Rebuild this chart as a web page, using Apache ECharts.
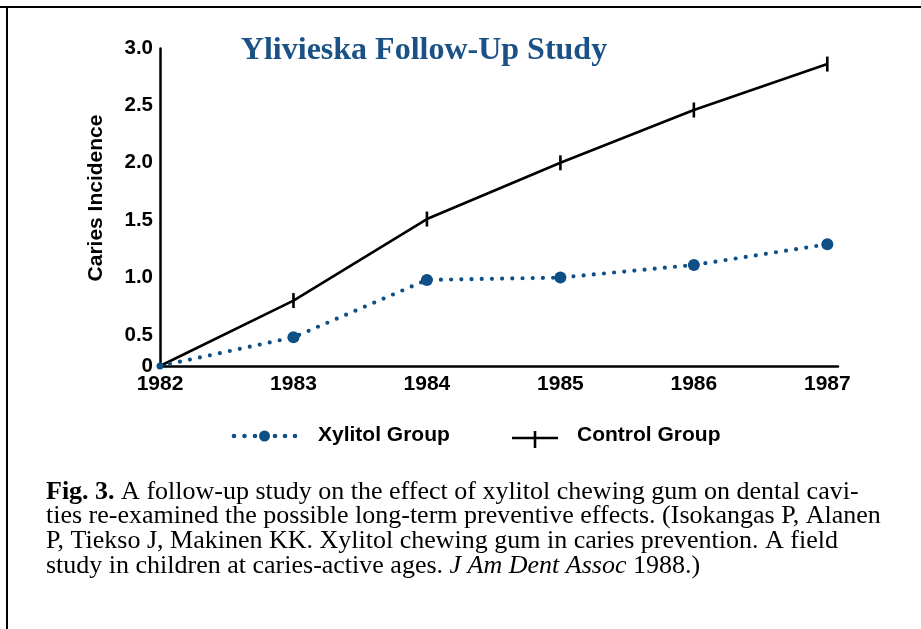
<!DOCTYPE html>
<html>
<head>
<meta charset="utf-8">
<script src="https://cdn.jsdelivr.net/npm/echarts@6/dist/echarts.min.js"></script>
<style>
html,body{margin:0;padding:0;background:#fff;}
#c{width:921px;height:629px;}
</style>
</head>
<body>
<div id="c"></div>
<script>
const years = [1982, 1983, 1984, 1985, 1986, 1987];
const xylitol = [0, 0.48, 0.98, 1.0, 1.11, 1.29];
const control = [0, 0.80, 1.51, 2.0, 2.46, 2.86];
const yTicks = [0, 0.5, 1.0, 1.5, 2.0, 2.5, 3.0];
const titleText = 'Ylivieska Follow-Up Study';
const yName = 'Caries Incidence';
const seriesNames = ['Xylitol Group', 'Control Group'];
const captionLines = [
  [{s:'b', t:'Fig. 3.'}, {s:'n', t:' A follow-up study on the effect of xylitol chewing gum on dental cavi-'}],
  [{s:'n', t:'ties re-examined the possible long-term preventive effects. (Isokangas P, Alanen'}],
  [{s:'n', t:'P, Tiekso J, Makinen KK. Xylitol chewing gum in caries prevention. A field'}],
  [{s:'n', t:'study in children at caries-active ages. '}, {s:'i', t:'J Am Dent Assoc'}, {s:'n', t:' 1988.)'}]
];

const BLUE = '#0e4f86';
const SANS = 'Liberation Sans, Arial, sans-serif';
const SERIF = 'Liberation Serif, Times New Roman, serif';
const chart = echarts.init(document.getElementById('c'), null, {renderer:'canvas'});

const CAP = 26;
const capGraphics = captionLines.map((line, i) => ({
  type:'text', x: 46, y: 492 + i*24.6,
  style:{
    text: line.map(p => '{' + p.s + '|' + p.t + '}').join(''),
    verticalAlign:'middle',
    rich:{
      b:{fontFamily:SERIF, fontSize:CAP, fontWeight:'bold', fill:'#000'},
      n:{fontFamily:SERIF, fontSize:CAP, fill:'#000'},
      i:{fontFamily:SERIF, fontSize:CAP, fontStyle:'italic', fill:'#000'}
    }
  }
}));

const legendDots = [234, 244.5, 255, 275, 285, 295].map(x => ({
  type:'circle', shape:{cx:x, cy:436, r:2.3}, style:{fill:BLUE}
}));

const option = {
  animation:false,
  backgroundColor:'#fff',
  grid:{left:160, right:83, top:48, bottom:263, containLabel:false},
  xAxis:{
    type:'value', min:1982, max:1987.08, interval:1,
    axisLine:{show:true, onZero:false, lineStyle:{color:'#000', width:2.5}},
    axisTick:{show:false}, splitLine:{show:false},
    axisLabel:{
      margin:8, color:'#000', fontFamily:SANS, fontWeight:'bold', fontSize:21,
      formatter: v => (Math.abs(v - Math.round(v)) < 1e-6 ? String(Math.round(v)) : ''),
      showMaxLabel:false
    }
  },
  yAxis:{
    type:'value', min:0, max:3, interval:0.5,
    breaks:[{start:0, end:0.23, gap:0}],
    breakArea:{show:false},
    breakLabelLayout:{moveOverlap:false},
    axisLine:{show:true, lineStyle:{color:'#000', width:2.5}},
    axisTick:{show:false}, splitLine:{show:false},
    axisLabel:{
      margin:7, color:'#000', fontFamily:SANS, fontWeight:'bold', fontSize:20.5,
      hideOverlap:false,
      customValues: yTicks,
      formatter: v => {
        const hit = yTicks.find(t => Math.abs(t - v) < 1e-6);
        if (hit === undefined) return '';
        return hit === 0 ? '0' : hit.toFixed(1);
      }
    }
  },
  series:[
    {
      name:seriesNames[1], type:'line', z:2,
      data: years.map((y, i) => i === 0 ? {value:[y, control[i]], symbol:'none'} : [y, control[i]]),
      symbol:'rect', symbolSize:[2.6, 15],
      lineStyle:{color:'#000', width:2.6},
      itemStyle:{color:'#000'}
    },
    {
      name:seriesNames[0], type:'line', z:3,
      data: years.map((y, i) => i === 0 ? {value:[y, xylitol[i]], symbolSize:7} : [y, xylitol[i]]),
      symbol:'circle', symbolSize:12,
      lineStyle:{color:BLUE, width:4.2, type:[0, 10.2], cap:'round'},
      itemStyle:{color:BLUE}
    }
  ],
  graphic:[
    {type:'line', shape:{x1:0, y1:7, x2:921, y2:7}, style:{stroke:'#000', lineWidth:2}},
    {type:'line', shape:{x1:7, y1:6, x2:7, y2:629}, style:{stroke:'#000', lineWidth:2}},
    {type:'text', x:424, y:51, style:{text:titleText, fontFamily:SERIF, fontWeight:'bold', fontSize:32, fill:'#1a5287', align:'center', verticalAlign:'middle'}},
    {type:'text', x:96, y:198, rotation:Math.PI/2, style:{text:yName, fontFamily:SANS, fontWeight:'bold', fontSize:21, fill:'#000', align:'center', verticalAlign:'middle'}},
    ...legendDots,
    {type:'circle', shape:{cx:264.5, cy:436, r:5.5}, style:{fill:BLUE}},
    {type:'text', x:318, y:435, style:{text:seriesNames[0], fontFamily:SANS, fontWeight:'bold', fontSize:21, fill:'#000', verticalAlign:'middle'}},
    {type:'line', shape:{x1:512, y1:438, x2:558, y2:438}, style:{stroke:'#000', lineWidth:2.6}},
    {type:'line', shape:{x1:535, y1:431, x2:535, y2:448}, style:{stroke:'#000', lineWidth:2.6}},
    {type:'text', x:577, y:435, style:{text:seriesNames[1], fontFamily:SANS, fontWeight:'bold', fontSize:21, fill:'#000', verticalAlign:'middle'}},
    ...capGraphics
  ]
};
chart.setOption(option);
</script>
</body>
</html>
